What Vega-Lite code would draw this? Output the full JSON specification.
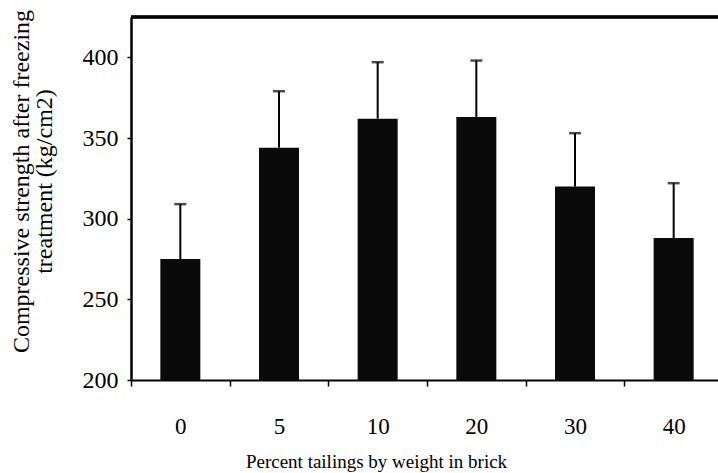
{
  "$schema": "https://vega.github.io/schema/vega-lite/v6.json",
  "autosize": {"type": "none"},
  "padding": {"left": 131, "top": 17, "right": 0, "bottom": 93},
  "width": 587,
  "height": 363,
  "background": "white",
  "config": {"view": {"stroke": null}, "font": "Liberation Serif"},
  "data": {"values": [
    {"tailings": "0", "strength": 275, "upper": 309},
    {"tailings": "5", "strength": 344, "upper": 379},
    {"tailings": "10", "strength": 362, "upper": 397},
    {"tailings": "20", "strength": 363, "upper": 398},
    {"tailings": "30", "strength": 320, "upper": 353},
    {"tailings": "40", "strength": 288, "upper": 322}
  ]},
  "encoding": {
    "x": {
      "field": "tailings", "type": "nominal", "sort": null,
      "scale": {"range": [0, 592], "paddingInner": 0, "paddingOuter": 0},
      "axis": {
        "title": "Percent tailings by weight in brick",
        "labelAngle": 0, "labelFont": "Liberation Serif", "labelFontSize": 23, "labelColor": "black",
        "labelPadding": 29, "labelBaseline": "top",
        "tickBand": "extent", "tickSize": 6, "tickWidth": 1.5, "tickColor": "black",
        "domainColor": "black", "domainWidth": 2,
        "titleFont": "Liberation Serif", "titleFontSize": 19, "titleFontWeight": "normal", "titleColor": "black",
        "titleX": 245, "titleY": 87, "titleAlign": "center", "titleBaseline": "alphabetic"
      }
    }
  },
  "layer": [
    {
      "mark": {"type": "bar", "color": "#0a0a0a", "width": 40},
      "encoding": {
        "y": {
          "field": "strength", "type": "quantitative",
          "scale": {"domain": [200, 425], "nice": false, "zero": false},
          "axis": {
            "title": ["Compressive strength after freezing", "treatment (kg/cm2)"],
            "values": [200, 250, 300, 350, 400],
            "grid": false,
            "labelFont": "Liberation Serif", "labelFontSize": 24, "labelColor": "black", "labelPadding": 9,
            "tickSize": 4, "tickWidth": 1.5, "tickColor": "black",
            "domainColor": "black", "domainWidth": 2.5,
            "titleFont": "Liberation Serif", "titleFontSize": 24, "titleFontWeight": "normal", "titleColor": "black",
            "titleLineHeight": 23, "titleAngle": -90, "titleAlign": "center", "titleBaseline": "top",
            "titleX": -122, "titleY": 164
          }
        },
        "y2": {"datum": 200}
      }
    },
    {
      "mark": {"type": "rule", "color": "black", "strokeWidth": 2},
      "encoding": {
        "y": {"field": "strength", "type": "quantitative"},
        "y2": {"field": "upper"}
      }
    },
    {
      "mark": {"type": "tick", "color": "black", "size": 12, "thickness": 2.5, "orient": "horizontal"},
      "encoding": {
        "y": {"field": "upper", "type": "quantitative"}
      }
    },
    {
      "mark": {"type": "rule", "color": "black", "strokeWidth": 2.5},
      "encoding": {"y": {"datum": 425}, "x": {"value": 0}, "x2": {"value": 592}}
    }
  ]
}
